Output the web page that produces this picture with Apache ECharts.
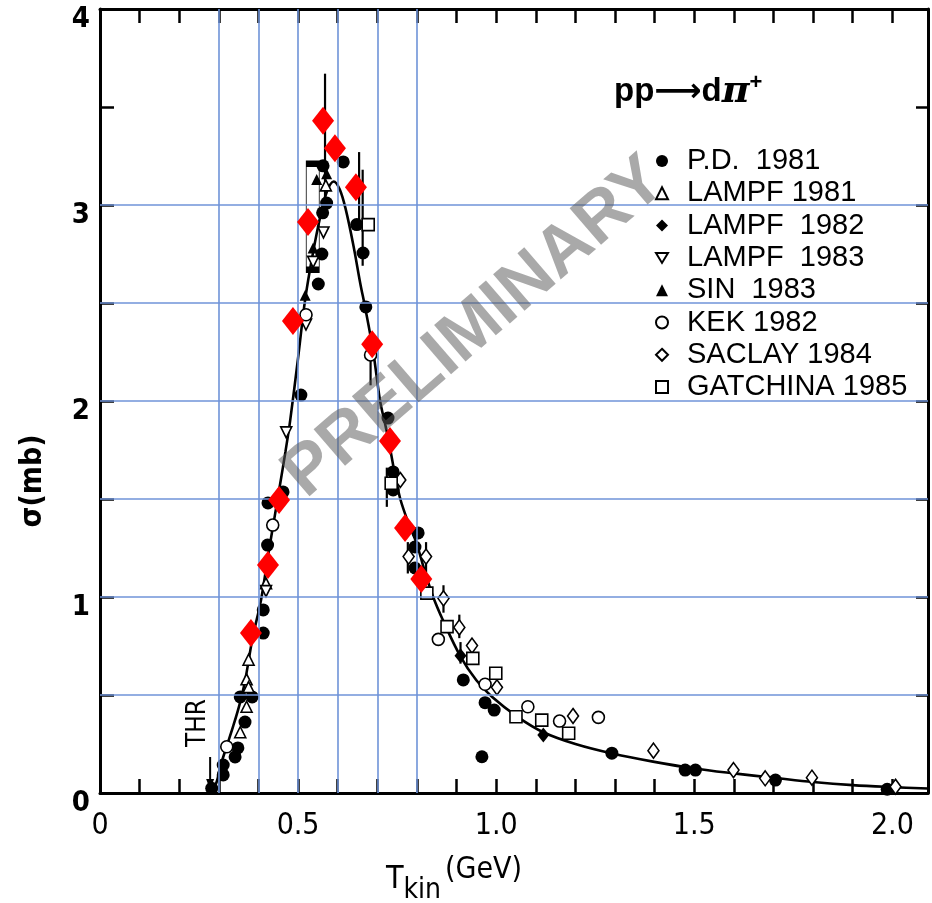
<!DOCTYPE html>
<html><head><meta charset="utf-8">
<script src="https://cdn.jsdelivr.net/npm/echarts@6/dist/echarts.min.js"></script>
<style>html,body{margin:0;padding:0;background:#fff}#c{width:932px;height:903px}</style>
</head><body><div id="c"></div>
<script>
// ---- data ----
const xTicks = [0, 0.5, 1.0, 1.5, 2.0];
const yTicks = [0, 1, 2, 3, 4];
const gridX = [0.3, 0.4, 0.5, 0.6, 0.7, 0.8];
const gridY = [0.5, 1.0, 1.5, 2.0, 2.5, 3.0];
const thr = [0.278];

const curve = [[0.283,0],[0.295,0.06],[0.303,0.13],[0.32,0.24],[0.336,0.34],[0.352,0.45],[0.366,0.57],[0.385,0.79],[0.406,0.98],[0.425,1.22],[0.44,1.40],[0.455,1.58],[0.468,1.74],[0.48,1.90],[0.5,2.22],[0.518,2.52],[0.538,2.76],[0.556,2.94],[0.573,3.07],[0.59,3.12],[0.605,3.08],[0.62,2.98],[0.64,2.79],[0.657,2.60],[0.669,2.48],[0.689,2.26],[0.707,2.0],[0.72,1.88],[0.732,1.76],[0.745,1.62],[0.758,1.50],[0.778,1.38],[0.798,1.28],[0.82,1.13],[0.841,1.0],[0.866,0.88],[0.909,0.70],[0.95,0.575],[0.99,0.49],[1.053,0.39],[1.119,0.31],[1.2,0.25],[1.296,0.2],[1.396,0.16],[1.5,0.125],[1.6,0.1],[1.7,0.078],[1.8,0.056],[1.9,0.04],[2.0,0.03],[2.09,0.023]];

const redPoints = [[0.381,0.816],[0.424,1.163],[0.452,1.495],[0.487,2.408],[0.525,2.913],[0.563,3.43],[0.593,3.29],[0.646,3.09],[0.687,2.29],[0.732,1.796],[0.770,1.352],[0.811,1.092]];

const pd1981 = [[0.282,0.024],[0.311,0.092],[0.311,0.143],[0.341,0.184],[0.348,0.230],[0.366,0.362],[0.354,0.49],[0.384,0.49],[0.412,0.816],[0.412,0.934],[0.423,1.265],[0.424,1.48],[0.462,1.536],[0.507,2.03],[0.551,2.597],[0.56,2.75],[0.562,2.96],[0.572,3.01],[0.563,3.2],[0.614,3.22],[0.648,2.90],[0.664,2.755],[0.671,2.48],[0.727,1.913],[0.74,1.638],[0.74,1.546],[0.803,1.327],[0.795,1.255],[0.795,1.148],[0.917,0.577],[0.964,0.185],[0.972,0.461],[0.995,0.423],[1.292,0.203],[1.477,0.117],[1.503,0.117],[1.705,0.066],[1.987,0.019]];
const lampf1981 = [[0.375,0.68],[0.37,0.58],[0.375,0.54],[0.37,0.44],[0.354,0.31],[0.419,1.07],[0.57,3.1]];
const lampf1982 = [[0.91,0.70],[1.119,0.296]];
const lampf1983 = [[0.47,1.84],[0.564,2.86],[0.538,2.71],[0.52,2.39],[0.419,1.03]];
const sin1983 = [[0.518,2.54],[0.538,2.78],[0.547,3.13],[0.572,3.16]];
const kek1982 = [[0.52,2.44],[0.436,1.367],[0.32,0.236],[0.683,2.235],[0.854,0.784],[0.972,0.555],[1.08,0.44],[1.16,0.367],[1.258,0.386]];
const saclay1984 = [[0.758,1.597],[0.779,1.206],[0.823,1.206],[0.867,0.993],[0.907,0.845],[0.939,0.752],[1.002,0.539],[1.194,0.393],[1.397,0.216],[1.599,0.117],[1.679,0.075],[1.797,0.078],[2.008,0.032]];
const gatchina1985 = [[0.677,2.9],[0.735,1.58],[0.825,1.02],[0.876,0.849],[0.941,0.687],[0.999,0.611],[1.05,0.389],[1.115,0.372],[1.183,0.305]];
const gatchinaBox = [[0.537,2.94]];
// error bars: [T, low, high]
const errBars = [[0.568,3.0,3.67],[0.654,2.9,3.27],[0.663,2.69,3.18],[0.683,2.08,2.28],[0.724,1.46,1.66],[0.777,1.12,1.28],[0.823,1.12,1.28],[0.867,0.92,1.06],[0.907,0.79,0.91],[0.91,0.66,0.77]];

const legendNames = ['P.D.  1981','LAMPF 1981','LAMPF  1982','LAMPF  1983','SIN  1983','KEK 1982','SACLAY 1984','GATCHINA 1985'];

// ---- chart ----
const FONT = "'Liberation Sans', Arial, sans-serif";
const NARROW = "'Liberation Sans Narrow', 'DejaVu Sans Condensed', 'Liberation Sans', sans-serif";
const chart = echarts.init(document.getElementById('c'), null, {renderer:'canvas'});
const blue = '#6f93d8';
const openStyle = {color:'#fff', borderColor:'#000', borderWidth:1.6, opacity:1};
const fillStyle = {color:'#000', opacity:1};

function sc(name, data, symbol, size, style, rot){
  return {type:'scatter', name, data, symbol, symbolSize:size, symbolRotate:rot||0,
    itemStyle:style, z:4, xAxisIndex:0, yAxisIndex:0};
}

const xTickSet = xTicks.map(v=>Math.round(v*10));
const yTickSet = yTicks.map(v=>Math.round(v*10));

const legendData = legendNames.map((n,i)=> i===3 ? {name:n, icon:'path://M0,0L12,0L6,10Z'} : {name:n});

const option = {
  animation:false,
  backgroundColor:'#fff',
  grid:{left:100, right:4, top:9, bottom:110, containLabel:false, outerBoundsMode:'none'},
  xAxis:[{
    type:'value', min:0, max:2.09, interval:0.1, position:'bottom',
    axisLine:{show:true, onZero:false, lineStyle:{color:'#000', width:3}},
    axisTick:{inside:true, length:14, lineStyle:{color:'#000', width:2.5}},
    axisLabel:{fontSize:30, fontFamily:NARROW, color:'#000', margin:18,
      formatter:v=>{const k=Math.round(v*10); if(Math.abs(v*10-k)>1e-6||!xTickSet.includes(k)) return ''; return k===0?'0':(k/10).toFixed(1);}},
    splitLine:{show:false},
    name:'{t|T}{s|kin}{g|(GeV)}', nameLocation:'middle', nameGap:62,
    nameTextStyle:{padding:[0,120,0,0], lineHeight:50, rich:{
      t:{fontSize:32, fontFamily:NARROW, color:'#000', lineHeight:50, verticalAlign:'middle'},
      s:{fontSize:28, fontFamily:NARROW, color:'#000', lineHeight:26, verticalAlign:'bottom', padding:[0,4,0,0]},
      g:{fontSize:30, fontFamily:NARROW, color:'#000', lineHeight:30, verticalAlign:'top'}
    }}
  },{
    type:'value', min:0, max:2.09, interval:0.1, position:'top',
    axisLine:{show:true, onZero:false, lineStyle:{color:'#000', width:3}},
    axisTick:{inside:true, length:14, lineStyle:{color:'#000', width:2.5}},
    axisLabel:{show:false}, splitLine:{show:false}
  }],
  yAxis:[{
    type:'value', min:0, max:4, interval:0.5, position:'left',
    axisLine:{show:true, onZero:false, lineStyle:{color:'#000', width:3}},
    axisTick:{inside:true, length:14, lineStyle:{color:'#000', width:2.5}},
    axisLabel:{fontSize:29, fontWeight:'bold', fontFamily:NARROW, color:'#000', margin:10,
      verticalAlign:'top', lineHeight:20,
      formatter:v=>{const k=Math.round(v*10); if(Math.abs(v*10-k)>1e-6||!yTickSet.includes(k)) return ''; return String(k/10);}},
    splitLine:{show:false},
    name:'σ(mb)', nameLocation:'middle', nameRotate:90, nameGap:52,
    nameTextStyle:{fontSize:30, fontFamily:NARROW, fontWeight:'bold', color:'#000', padding:[0,160,0,0]}
  },{
    type:'value', min:0, max:4, interval:0.5, position:'right',
    axisLine:{show:true, onZero:false, lineStyle:{color:'#000', width:3}},
    axisTick:{inside:true, length:12, lineStyle:{color:'#000', width:2.5}},
    axisLabel:{show:false}, splitLine:{show:false}
  }],
  legend:{
    orient:'vertical', left:650, top:141, itemWidth:12, itemHeight:12, itemGap:2.3,
    data:legendData, selectedMode:false,
    textStyle:{fontSize:29, fontFamily:FONT, color:'#000', lineHeight:30, padding:[0,0,0,14]}
  },
  series:[
    {type:'line', name:'grid', data:[], silent:true, z:1,
      markLine:{silent:true, symbol:['none','none'], label:{show:false},
        lineStyle:{color:blue, width:1.6, type:'solid', opacity:1},
        data:[...gridX.map(v=>({xAxis:v})), ...gridY.map(v=>({yAxis:v}))]}},
    {type:'line', name:'fit', data:curve, smooth:0.35, showSymbol:false, symbol:'none',
      lineStyle:{color:'#000', width:2.6}, z:3, silent:true},
    {type:'custom', name:'errors', data:errBars, z:3, silent:true,
      renderItem:(params, api)=>{
        const a = api.coord([api.value(0), api.value(1)]);
        const b = api.coord([api.value(0), api.value(2)]);
        return {type:'line', shape:{x1:a[0], y1:a[1], x2:b[0], y2:b[1]}, style:{stroke:'#000', lineWidth:2.2}};
      }, encode:{x:0, y:[1,2]}},
    sc(legendNames[0], pd1981, 'circle', 13, fillStyle),
    sc(legendNames[1], lampf1981, 'triangle', 11, openStyle),
    sc(legendNames[2], lampf1982, 'diamond', [12,15], fillStyle),
    sc(legendNames[3], lampf1983, 'triangle', 11, openStyle, 180),
    sc(legendNames[4], sin1983, 'triangle', 11, fillStyle),
    sc(legendNames[5], kek1982, 'circle', 12, openStyle),
    sc(legendNames[6], saclay1984, 'diamond', [11,15], openStyle),
    sc(legendNames[7], gatchina1985, 'rect', 12, openStyle),
    {type:'scatter', name:'gatchina-box', data:gatchinaBox, symbol:'rect', symbolSize:[13,106],
      itemStyle:{color:'rgba(255,255,255,0)', borderColor:'#000', borderWidth:2.2, opacity:1}, z:3, silent:true},
    {type:'scatter', name:'highlight', data:redPoints, symbol:'diamond', symbolSize:[22,28],
      itemStyle:{color:'#ff0000', opacity:1}, z:6, silent:true}
  ]
};
chart.setOption(option);

// annotations positioned from data values
const p0 = chart.convertToPixel({xAxisIndex:0, yAxisIndex:0}, [thr[0], 0]);
const ax = p0[0], ay = p0[1];
chart.setOption({graphic:[
  {type:'line', z:50, shape:{x1:ax, y1:ay-36, x2:ax, y2:ay-6}, style:{stroke:'#000', lineWidth:2}},
  {type:'polygon', z:50, shape:{points:[[ax-4,ay-14],[ax+4,ay-14],[ax,ay-3]]}, style:{fill:'#000'}},
  {type:'text', z:50, x:ax-12, y:ay-70, rotation:Math.PI/2,
    style:{text:'THR', fontSize:26, fontFamily:NARROW, fill:'#000', align:'center', verticalAlign:'middle'}},
  {type:'text', z:50, x:614, y:92,
    style:{text:'{a|pp}{r|⟶}{a|d}{p|π}{u|+}', verticalAlign:'middle', align:'left',
      rich:{a:{fontSize:33, fontWeight:'bold', fontFamily:FONT, fill:'#000'},
            r:{fontSize:33, fontWeight:'bold', fontFamily:"'DejaVu Sans', sans-serif", fill:'#000'},
            p:{fontSize:38, fontWeight:'bold', fontStyle:'italic', fontFamily:"'DejaVu Serif', serif", fill:'#000'},
            u:{fontSize:22, fontWeight:'bold', fontFamily:FONT, fill:'#000', verticalAlign:'top', lineHeight:40}}}},
  {type:'text', z:100, x:475, y:328, rotation:0.712,
    style:{text:'PRELIMINARY', fontSize:70, fontWeight:'bold', fontFamily:FONT,
      fill:'rgba(90,90,90,0.52)', align:'center', verticalAlign:'middle'}}
]});
</script>
</body></html>
